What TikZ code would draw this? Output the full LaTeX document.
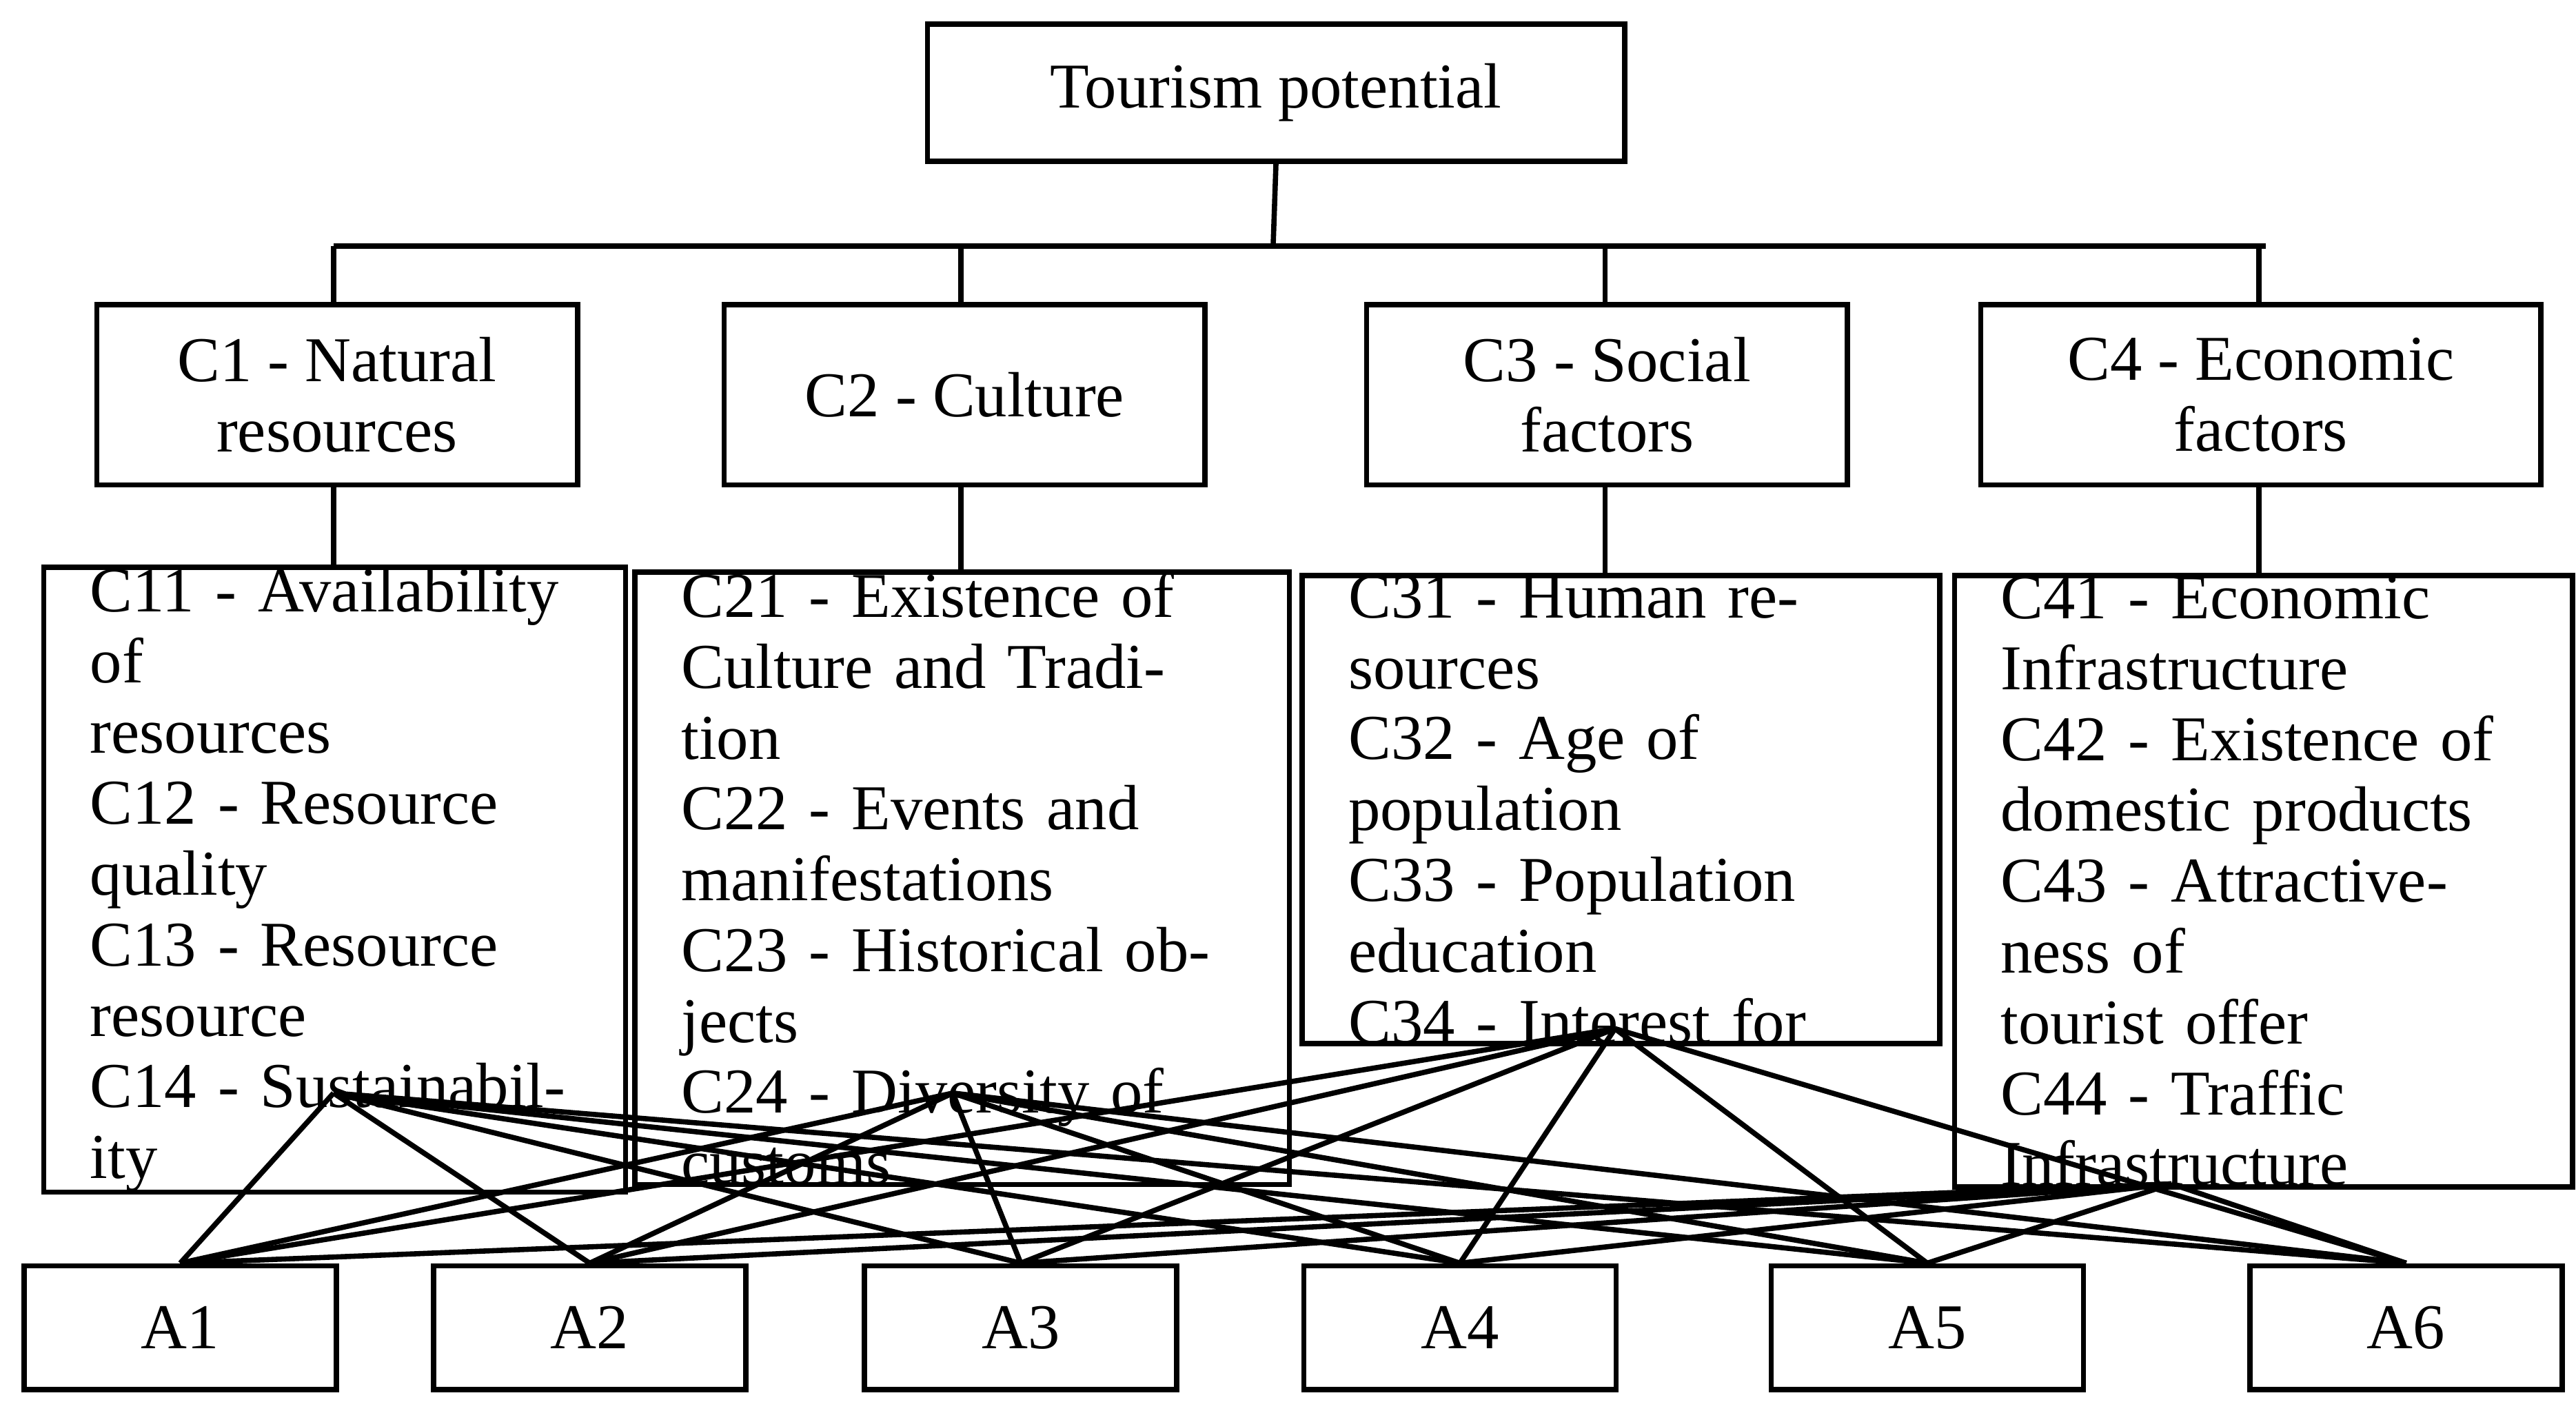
\documentclass[tikz,border=0pt]{standalone}
\usepackage{fontspec}
\setmainfont{Liberation Serif}
\usetikzlibrary{positioning}

\tikzset{
  box/.style={draw,line width=0.9pt,rectangle,anchor=north west,inner sep=0pt,align=center},
  subbox/.style={draw,line width=0.9pt,rectangle,anchor=north west,align=left,inner xsep=0.28cm,inner ysep=0pt},
  link/.style={line width=0.9pt}
}

\begin{document}
\begin{tikzpicture}[x=0.01cm,y=-0.01cm,font=\fontsize{11}{12.2}\selectfont]
\useasboundingbox (0,0) rectangle (1560,849);

% goal
\node[box,minimum width=4.22cm,minimum height=0.83cm] (tp) at (560,13) {Tourism potential};

% criteria
\node[box,minimum width=2.91cm,minimum height=1.09cm] (c1) at (57,183)   {C1 - Natural\\resources};
\node[box,minimum width=2.91cm,minimum height=1.09cm] (c2) at (437,183)  {C2 - Culture};
\node[box,minimum width=2.91cm,minimum height=1.09cm] (c3) at (826,183)  {C3 - Social\\factors};
\node[box,minimum width=3.39cm,minimum height=1.09cm] (c4) at (1198,183) {C4 - Economic\\factors};

% sub-criteria
\node[subbox,text width=2.96cm,minimum height=3.20cm] (c1s) at (25,342)
  {C11 - Availability of\\resources\\C12 - Resource\\quality\\C13 - Resource\\resource\\C14 - Sustainability};
\node[subbox,text width=3.40cm,minimum height=3.17cm] (c2s) at (383,345)
  {C21 - Existence of\\Culture and Tradition\\C22 - Events and\\manifestations\\C23 - Historical objects\\C24 - Diversity of\\customs};
\node[subbox,text width=3.30cm,minimum height=2.76cm] (c3s) at (787,347)
  {C31 - Human resources\\C32 - Age of\\population\\C33 - Population\\education\\C34 - Interest for};
\node[subbox,text width=3.18cm,minimum height=3.70cm] (c4s) at (1182,347)
  {C41 - Economic\\Infrastructure\\C42 - Existence of\\domestic products\\C43 - Attractiveness of\\tourist offer\\C44 - Traffic\\Infrastructure};

% alternatives
\foreach \n/\x in {1/13,2/261,3/522,4/788,5/1071,6/1361}
  \node[box,minimum width=1.89cm,minimum height=0.75cm] (a\n) at (\x,765) {A\n};

% tree
\coordinate (bar) at (771,149);
\draw[link] (tp.south) -- (bar);
\draw[link] (202,149) -- (1372,149);
\draw[link] (202,149) -- (c1.north -| 202,0);
\draw[link] (582,149) -- (c2.north -| 582,0);
\draw[link] (972,149) -- (c3.north -| 972,0);
\draw[link] (1368,149) -- (c4.north -| 1368,0);
\draw[link] (c1.south -| 202,0) -- (c1s.north -| 202,0);
\draw[link] (c2.south -| 582,0) -- (c2s.north -| 582,0);
\draw[link] (c3.south -| 972,0) -- (c3s.north -| 972,0);
\draw[link] (c4.south -| 1368,0) -- (c4s.north -| 1368,0);

% sub-criteria to alternatives
\coordinate (p1) at (202,662);
\coordinate (p2) at (577,662);
\coordinate (p3) at (978,623);
\coordinate (p4) at (1315,717);
\foreach \p in {p1,p2,p3,p4}
  \foreach \n in {1,...,6}
    \draw[link] (\p) -- (a\n.north);
\end{tikzpicture}
\end{document}
